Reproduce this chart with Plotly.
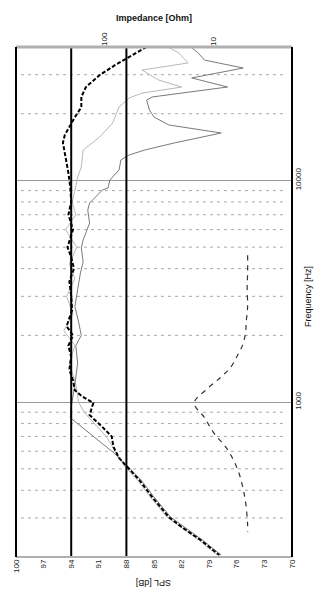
import math
import plotly.graph_objects as go

# ---------------- data ----------------
spl_ticks = [100, 97, 94, 91, 88, 85, 82, 79, 76, 73, 70]
freq_ticks = [1000, 10000]
imp_ticks = [10, 100]
ref_lines_db = [94, 88]
minor_freqs = [300, 400, 500, 600, 700, 800, 900,
               2000, 3000, 4000, 5000, 6000, 7000, 8000, 9000,
               20000, 30000]

freq_main = [40000, 36000, 33200, 29900, 26400, 23800, 21400, 19300, 17800, 16000,
             14800, 12800, 10800, 9300, 8000, 7000, 6000, 5000, 4500, 4000,
             3500, 3000, 2600, 2200, 2000, 1800, 1600, 1400, 1250, 1130,
             1060, 991, 874, 771, 700, 627, 560, 520, 445, 373,
             303, 273, 238, 204]
spl_main = [85.8, 87.7, 89.2, 90.9, 92.4, 92.9, 92.9, 93.6, 94.1, 94.7,
            94.9, 94.6, 94.3, 94.1, 94.0, 94.3, 93.8, 94.4, 94.0, 93.7,
            94.2, 94.0, 93.9, 94.5, 93.8, 94.3, 94.0, 94.2, 93.8, 93.6,
            92.8, 91.6, 92.0, 90.6, 89.6, 89.4, 88.8, 88.1, 86.6, 85.2,
            83.4, 82.0, 79.9, 77.9]

freq_a = [40000, 37600, 34900, 32150, 29000, 26400, 23800, 23060, 20800, 19330,
          17800, 17250, 16370, 14760, 13720, 13030, 12370, 11150, 10040, 9240,
          9060, 7910, 7350, 6420, 5390, 4960, 4280, 3820, 3200, 2700,
          2300, 2000, 1800, 1500, 1200, 950, 850, 724, 596, 520,
          445, 373, 303, 238, 204]
spl_a = [81.0, 80.2, 79.5, 75.3, 80.9, 77.0, 85.2, 85.8, 85.5, 85.0,
         83.4, 81.3, 77.7, 82.8, 86.0, 87.7, 88.6, 88.8, 89.8, 90.0,
         90.6, 92.0, 92.2, 92.0, 92.7, 92.9, 92.7, 93.0, 93.3, 93.6,
         93.2, 92.9, 93.5, 93.3, 93.6, 94.0, 94.1, 92.0, 89.5, 88.0,
         86.4, 85.0, 83.2, 79.7, 77.7]

freq_b = [40000, 37600, 33880, 31480, 28380, 26380, 24780, 23540, 21440, 18160,
          15710, 13720, 11500, 10360, 9000, 8000, 7000, 6000, 5000, 4200,
          3600, 3000, 2500, 2100, 1800, 1500, 1200, 1000, 900, 800,
          700, 600, 520, 445, 373, 303, 238, 204]
spl_b = [83.5, 82.3, 81.3, 86.3, 84.5, 82.0, 86.3, 87.7, 88.8, 89.5,
         90.9, 92.7, 92.9, 93.3, 93.6, 93.9, 93.5, 94.6, 93.4, 94.2,
         93.6, 94.5, 93.8, 94.8, 93.6, 94.2, 93.5, 93.2, 92.6, 91.5,
         90.2, 89.2, 88.3, 86.8, 85.4, 83.6, 80.1, 78.1]

freq_z = [4600, 3820, 3300, 2740, 2520, 2300, 2070, 1807, 1630, 1440,
          1297, 1157, 991, 855, 724, 607, 493, 409, 350, 279, 259]
imp_z = [4.8, 4.8, 4.85, 4.8, 4.85, 4.95, 5.0, 5.34, 5.93, 6.85,
         8.46, 11.1, 14.9, 12.1, 9.8, 7.3, 5.9, 5.3, 5.0, 4.8, 4.8]

# ---------------- figure ----------------
FONT = "Liberation Sans, Arial, sans-serif"
fig = go.Figure()

fig.add_trace(go.Scatter(x=spl_b, y=freq_b, mode="lines",
                         line=dict(color="#b8b8b8", width=1), hoverinfo="skip"))
fig.add_trace(go.Scatter(x=spl_a, y=freq_a, mode="lines",
                         line=dict(color="#7a7a7a", width=1), hoverinfo="skip"))
fig.add_trace(go.Scatter(x=spl_main, y=freq_main, mode="lines",
                         line=dict(color="#000000", width=2, dash="4px,2px"),
                         hoverinfo="skip"))
fig.add_trace(go.Scatter(x=imp_z, y=freq_z, mode="lines", xaxis="x2",
                         line=dict(color="#333333", width=1.2, dash="5px,5px",
                                   shape="spline"),
                         hoverinfo="skip"))

shapes = []
for f in minor_freqs:
    shapes.append(dict(type="line", xref="paper", yref="y", x0=0.018, x1=0.982,
                       y0=f, y1=f, layer="below",
                       line=dict(color="#a8a8a8", width=1, dash="3px,4px")))
for v in ref_lines_db:
    shapes.append(dict(type="line", xref="x", yref="paper", x0=v, x1=v,
                       y0=0, y1=1, line=dict(color="#000", width=2)))
# frame
shapes.append(dict(type="line", xref="paper", yref="paper", x0=0, x1=1, y0=1, y1=1,
                   line=dict(color="#b0b0b0", width=3)))
shapes.append(dict(type="line", xref="paper", yref="paper", x0=0, x1=1, y0=0, y1=0,
                   line=dict(color="#b0b0b0", width=2)))
shapes.append(dict(type="line", xref="paper", yref="paper", x0=0, x1=0, y0=0, y1=1,
                   line=dict(color="#000", width=2)))
shapes.append(dict(type="line", xref="paper", yref="paper", x0=1, x1=1, y0=0, y1=1,
                   line=dict(color="#000", width=2)))

fig.update_layout(
    width=328, height=593,
    margin=dict(l=12, r=36, t=47, b=36),
    paper_bgcolor="white", plot_bgcolor="white",
    showlegend=False,
    font=dict(family=FONT, size=8, color="#222"),
    xaxis=dict(range=[100, 70], tickmode="array", tickvals=spl_ticks,
               ticktext=[str(t) for t in spl_ticks], tickangle=-90,
               showgrid=False, zeroline=False, showline=False, ticks="",
               tickfont=dict(size=8, color="#222")),
    xaxis2=dict(overlaying="x", side="top", type="log", anchor="y",
                range=[math.log10(658), math.log10(1.87)],
                tickmode="array", tickvals=imp_ticks,
                ticktext=[str(t) for t in imp_ticks], tickangle=-90,
                showgrid=False, zeroline=False, showline=False, ticks="",
                tickfont=dict(size=8, color="#222")),
    yaxis=dict(type="log", side="right",
               range=[math.log10(200), math.log10(40000)],
               tickmode="array", tickvals=freq_ticks,
               ticktext=[str(t) for t in freq_ticks], tickangle=-90,
               showgrid=True, gridcolor="#9a9a9a", gridwidth=1,
               zeroline=False, showline=False, ticks="",
               tickfont=dict(size=8, color="#222")),
    shapes=shapes,
    annotations=[
        dict(text="<b>Impedance [Ohm]</b>", xref="paper", yref="paper",
             x=0.5, y=1.0, yshift=36, showarrow=False,
             font=dict(size=9, color="#111")),
        dict(text="SPL [dB]", xref="paper", yref="paper", x=0.5, y=0,
             yshift=-33, showarrow=False, textangle=180,
             font=dict(size=9, color="#111")),
        dict(text="Frequency [Hz]", xref="paper", yref="paper", x=1.0, y=0.51,
             xshift=23, showarrow=False, textangle=-90,
             font=dict(size=9, color="#111")),
    ],
)

fig.write_html("out.html")
